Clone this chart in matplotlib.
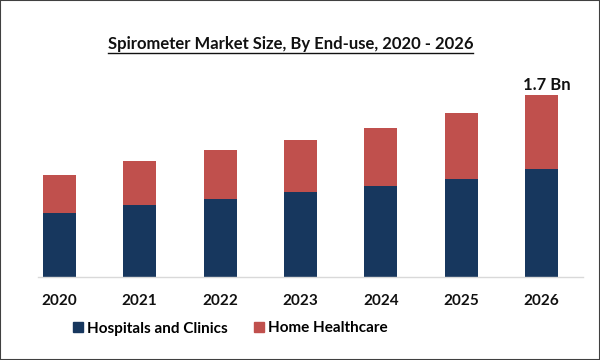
import matplotlib
matplotlib.use("Agg")
import matplotlib.pyplot as plt
from matplotlib.lines import Line2D
from matplotlib.patches import Patch, Rectangle

years = ["2020", "2021", "2022", "2023", "2024", "2025", "2026"]
hospitals = [0.597, 0.671, 0.733, 0.793, 0.849, 0.919, 1.013]
home = [0.354, 0.411, 0.457, 0.490, 0.546, 0.616, 0.687]
series_names = ["Hospitals and Clinics", "Home Healthcare"]
colors = ["#17375E", "#C0504D"]
title = "Spirometer Market Size, By End-use, 2020 - 2026"
annotation = "1.7 Bn"

plt.rcParams['font.family'] = ['Lato', 'DejaVu Sans']

fig = plt.figure(figsize=(6, 3.6), dpi=100)
ax = fig.add_axes([38/600, 1 - 277.3/360, (582.5 - 38)/600, 217.3/360])

x = list(range(len(years)))
ax.bar(x, hospitals, width=0.41, color=colors[0], label=series_names[0])
ax.bar(x, home, width=0.41, bottom=hospitals, color=colors[1], label=series_names[1])

ax.set_xlim(-0.265, 6.51)
ax.set_ylim(0, 217.3 * 0.009325)
for s in ["top", "right", "left"]:
    ax.spines[s].set_visible(False)
ax.spines["bottom"].set_color("#D9D9D9")
ax.spines["bottom"].set_linewidth(1.0)
ax.set_yticks([])
ax.set_xticks(x)
ax.set_xticklabels(years, fontsize=11, fontweight="bold", color="#111111")
ax.tick_params(axis="x", length=0, pad=12)

total_last = hospitals[-1] + home[-1]
ax.text(x[-1] + 0.06, total_last + 0.015, annotation, ha="center", va="bottom",
        fontsize=12, fontweight="bold", color="#111111")

t = fig.text(290.5/600, 1 - 44/360, title, ha="center", va="center",
             fontsize=12, fontweight="bold", color="#111111")
fig.canvas.draw()
bb = t.get_window_extent(renderer=fig.canvas.get_renderer())
uy = (bb.y0 - 1.0) / fig.bbox.height
fig.add_artist(Line2D([bb.x0 / fig.bbox.width, bb.x1 / fig.bbox.width], [uy, uy],
                      transform=fig.transFigure, color="#111111", linewidth=1.0))

handles = [Patch(color=colors[0]), Patch(color=colors[1])]
leg = fig.legend(handles, series_names, loc="center left",
                 bbox_to_anchor=(72.7/600, 1 - 328.5/360), ncol=2, frameon=False,
                 borderpad=0, borderaxespad=0,
                 handlelength=0.66, handleheight=0.66, handletextpad=0.25,
                 columnspacing=1.75, prop={"size": 11, "weight": "bold"})

fig.add_artist(Rectangle((0, 0), 1, 1, transform=fig.transFigure, fill=False,
                         edgecolor="#404040", linewidth=1.5))

fig.savefig("out.png", dpi=100)
